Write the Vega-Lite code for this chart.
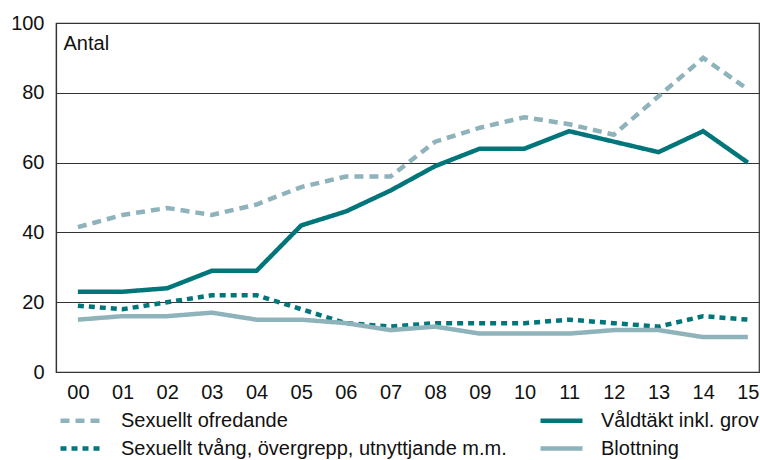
{
  "$schema": "https://vega.github.io/schema/vega-lite/v6.json",
  "autosize": {"type": "none"},
  "padding": {"left": 56, "top": 23, "right": 1, "bottom": 88},
  "width": 703,
  "height": 349,
  "config": {
    "font": "Liberation Sans",
    "view": {"stroke": "#333333", "strokeWidth": 1.2},
    "axis": {"labelFont": "Liberation Sans", "labelColor": "#111111", "labelFontSize": 20, "domain": false, "ticks": false, "grid": false}
  },
  "data": {
    "values": [
      {"yr": 0, "s": "Sexuellt ofredande", "v": 41.5},
      {"yr": 1, "s": "Sexuellt ofredande", "v": 45},
      {"yr": 2, "s": "Sexuellt ofredande", "v": 47},
      {"yr": 3, "s": "Sexuellt ofredande", "v": 45},
      {"yr": 4, "s": "Sexuellt ofredande", "v": 48},
      {"yr": 5, "s": "Sexuellt ofredande", "v": 53},
      {"yr": 6, "s": "Sexuellt ofredande", "v": 56},
      {"yr": 7, "s": "Sexuellt ofredande", "v": 56},
      {"yr": 8, "s": "Sexuellt ofredande", "v": 66},
      {"yr": 9, "s": "Sexuellt ofredande", "v": 70},
      {"yr": 10, "s": "Sexuellt ofredande", "v": 73},
      {"yr": 11, "s": "Sexuellt ofredande", "v": 71},
      {"yr": 12, "s": "Sexuellt ofredande", "v": 68},
      {"yr": 13, "s": "Sexuellt ofredande", "v": 79},
      {"yr": 14, "s": "Sexuellt ofredande", "v": 90},
      {"yr": 15, "s": "Sexuellt ofredande", "v": 81},
      {"yr": 0, "s": "Våldtäkt inkl. grov", "v": 23},
      {"yr": 1, "s": "Våldtäkt inkl. grov", "v": 23},
      {"yr": 2, "s": "Våldtäkt inkl. grov", "v": 24},
      {"yr": 3, "s": "Våldtäkt inkl. grov", "v": 29},
      {"yr": 4, "s": "Våldtäkt inkl. grov", "v": 29},
      {"yr": 5, "s": "Våldtäkt inkl. grov", "v": 42},
      {"yr": 6, "s": "Våldtäkt inkl. grov", "v": 46},
      {"yr": 7, "s": "Våldtäkt inkl. grov", "v": 52},
      {"yr": 8, "s": "Våldtäkt inkl. grov", "v": 59},
      {"yr": 9, "s": "Våldtäkt inkl. grov", "v": 64},
      {"yr": 10, "s": "Våldtäkt inkl. grov", "v": 64},
      {"yr": 11, "s": "Våldtäkt inkl. grov", "v": 69},
      {"yr": 12, "s": "Våldtäkt inkl. grov", "v": 66},
      {"yr": 13, "s": "Våldtäkt inkl. grov", "v": 63},
      {"yr": 14, "s": "Våldtäkt inkl. grov", "v": 69},
      {"yr": 15, "s": "Våldtäkt inkl. grov", "v": 60},
      {"yr": 0, "s": "Sexuellt tvång, övergrepp, utnyttjande m.m.", "v": 19},
      {"yr": 1, "s": "Sexuellt tvång, övergrepp, utnyttjande m.m.", "v": 18},
      {"yr": 2, "s": "Sexuellt tvång, övergrepp, utnyttjande m.m.", "v": 20},
      {"yr": 3, "s": "Sexuellt tvång, övergrepp, utnyttjande m.m.", "v": 22},
      {"yr": 4, "s": "Sexuellt tvång, övergrepp, utnyttjande m.m.", "v": 22},
      {"yr": 5, "s": "Sexuellt tvång, övergrepp, utnyttjande m.m.", "v": 18},
      {"yr": 6, "s": "Sexuellt tvång, övergrepp, utnyttjande m.m.", "v": 14},
      {"yr": 7, "s": "Sexuellt tvång, övergrepp, utnyttjande m.m.", "v": 13},
      {"yr": 8, "s": "Sexuellt tvång, övergrepp, utnyttjande m.m.", "v": 14},
      {"yr": 9, "s": "Sexuellt tvång, övergrepp, utnyttjande m.m.", "v": 14},
      {"yr": 10, "s": "Sexuellt tvång, övergrepp, utnyttjande m.m.", "v": 14},
      {"yr": 11, "s": "Sexuellt tvång, övergrepp, utnyttjande m.m.", "v": 15},
      {"yr": 12, "s": "Sexuellt tvång, övergrepp, utnyttjande m.m.", "v": 14},
      {"yr": 13, "s": "Sexuellt tvång, övergrepp, utnyttjande m.m.", "v": 13},
      {"yr": 14, "s": "Sexuellt tvång, övergrepp, utnyttjande m.m.", "v": 16},
      {"yr": 15, "s": "Sexuellt tvång, övergrepp, utnyttjande m.m.", "v": 15},
      {"yr": 0, "s": "Blottning", "v": 15},
      {"yr": 1, "s": "Blottning", "v": 16},
      {"yr": 2, "s": "Blottning", "v": 16},
      {"yr": 3, "s": "Blottning", "v": 17},
      {"yr": 4, "s": "Blottning", "v": 15},
      {"yr": 5, "s": "Blottning", "v": 15},
      {"yr": 6, "s": "Blottning", "v": 14},
      {"yr": 7, "s": "Blottning", "v": 12},
      {"yr": 8, "s": "Blottning", "v": 13},
      {"yr": 9, "s": "Blottning", "v": 11},
      {"yr": 10, "s": "Blottning", "v": 11},
      {"yr": 11, "s": "Blottning", "v": 11},
      {"yr": 12, "s": "Blottning", "v": 12},
      {"yr": 13, "s": "Blottning", "v": 12},
      {"yr": 14, "s": "Blottning", "v": 10},
      {"yr": 15, "s": "Blottning", "v": 10}
    ]
  },
  "mark": {"type": "line", "strokeWidth": 4.5, "strokeCap": "butt", "strokeJoin": "miter"},
  "encoding": {
    "x": {
      "field": "yr", "type": "quantitative",
      "scale": {"domain": [-0.49, 15.25], "nice": false, "zero": false},
      "axis": {"values": [0,1,2,3,4,5,6,7,8,9,10,11,12,13,14,15], "labelExpr": "datum.value < 10 ? '0' + datum.value : '' + datum.value", "labelPadding": 10, "title": null, "labelFlush": false}
    },
    "y": {
      "field": "v", "type": "quantitative",
      "scale": {"domain": [0, 100], "nice": false},
      "axis": {"values": [0,20,40,60,80,100], "grid": true, "gridColor": "#333333", "gridWidth": 1, "domain": true, "domainColor": "#333333", "domainWidth": 1.2, "labelPadding": 12,
        "title": "Antal", "titleAngle": 0, "titleX": 7, "titleY": 26, "titleAlign": "left", "titleBaseline": "alphabetic", "titleFontSize": 20, "titleFontWeight": "normal", "titleFont": "Liberation Sans", "titleColor": "#111111", "labelFlush": false}
    },
    "color": {
      "field": "s", "type": "nominal",
      "scale": {
        "domain": ["Sexuellt ofredande", "Sexuellt tvång, övergrepp, utnyttjande m.m.", "Våldtäkt inkl. grov", "Blottning"],
        "range": ["#8fb3bb", "#00767b", "#00767b", "#8fb3bb"]
      },
      "legend": {
        "title": null, "orient": "none", "legendX": 13, "legendY": 385, "columns": 2,
        "symbolType": "M-2.1,0H2.1", "symbolSize": 400, "symbolStrokeWidth": 4.5,
        "labelFontSize": 20, "labelFont": "Liberation Sans", "labelColor": "#111111", "labelLimit": 600, "labelOffset": 27,
        "columnPadding": 24, "rowPadding": 5
      }
    },
    "strokeDash": {
      "field": "s", "type": "nominal",
      "scale": {
        "domain": ["Sexuellt ofredande", "Sexuellt tvång, övergrepp, utnyttjande m.m.", "Våldtäkt inkl. grov", "Blottning"],
        "range": [[9, 6], [6, 5], [1, 0], [1, 0]]
      },
      "legend": null
    }
  }
}
